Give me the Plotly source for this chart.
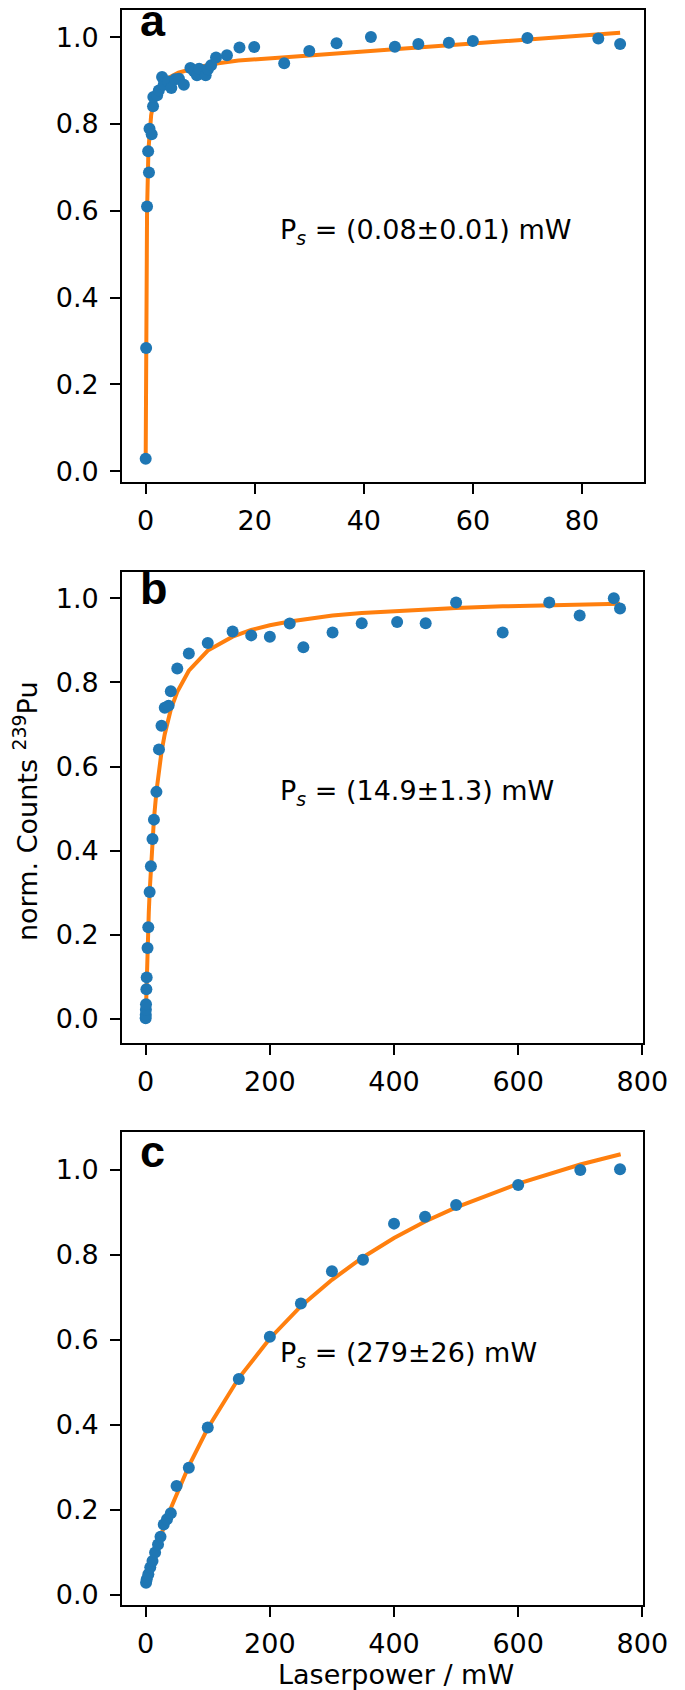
import plotly.graph_objects as go

# ---------------- data ----------------
# Panel a (x in mW)
a_x = [0.0, 0.08, 0.25, 0.6, 0.45, 0.7, 1.1, 1.35, 1.4, 2.1, 2.4, 3.0, 3.3, 4.1, 4.7,
       5.4, 6.1, 7.0, 8.2, 8.9, 9.4, 9.8, 11.0, 11.4, 12.0, 12.9, 14.9, 17.2, 19.9,
       25.4, 30.0, 35.0, 41.3, 45.7, 50.0, 55.6, 60.0, 70.0, 83.0, 87.0]
a_y = [0.029, 0.284, 0.610, 0.688, 0.737, 0.789, 0.776, 0.841, 0.862, 0.866, 0.877,
       0.908, 0.890, 0.898, 0.883, 0.903, 0.904, 0.890, 0.929, 0.921, 0.912, 0.927,
       0.912, 0.926, 0.935, 0.953, 0.958, 0.976, 0.977, 0.940, 0.968, 0.986, 1.000,
       0.978, 0.984, 0.987, 0.991, 0.998, 0.997, 0.984]
a_fit_x = [0.0, 0.08, 0.25, 0.5, 1.0, 1.5, 2.0, 3.0, 4.0, 6.0, 8.0, 10.0, 13.0, 17.0,
           25.0, 35.0, 45.0, 55.0, 65.0, 75.0, 87.0]
a_fit_y = [0.030, 0.290, 0.600, 0.740, 0.820, 0.855, 0.873, 0.893, 0.905, 0.918, 0.926,
           0.932, 0.939, 0.946, 0.953, 0.962, 0.971, 0.980, 0.990, 0.999, 1.010]

# Panel b
b_x = [0.0, 0.15, 0.33, 0.54, 1.13, 1.63, 3.0, 4.2, 6.4, 8.4, 11.0, 13.3, 17.3, 21.4,
       25.5, 30.7, 36.9, 40.5, 50.9, 69.5, 100, 140, 170, 200, 232, 254, 301, 348,
       405, 451, 500, 575, 650, 699, 754, 764]
b_y = [0.002, 0.010, 0.022, 0.035, 0.071, 0.099, 0.169, 0.218, 0.302, 0.363, 0.428,
       0.474, 0.540, 0.641, 0.697, 0.740, 0.745, 0.779, 0.833, 0.869, 0.894, 0.921,
       0.912, 0.909, 0.940, 0.884, 0.919, 0.941, 0.944, 0.941, 0.990, 0.919, 0.990,
       0.959, 1.000, 0.976]
b_fit_x = [0, 1, 2, 3, 4, 5, 6.4, 8.4, 11, 13.3, 17.3, 21.4, 25.5, 30.7, 36.9, 40.5,
           50.9, 69.5, 100, 140, 170, 200, 232, 254, 301, 348, 405, 451, 500, 575,
           650, 699, 754, 764]
b_fit_y = [0.0, 0.063, 0.119, 0.169, 0.213, 0.253, 0.302, 0.363, 0.427, 0.475, 0.541,
           0.593, 0.635, 0.677, 0.717, 0.736, 0.778, 0.828, 0.876, 0.909, 0.925, 0.936,
           0.945, 0.950, 0.959, 0.965, 0.970, 0.973, 0.977, 0.981, 0.984, 0.985,
           0.986, 0.987]

# Panel c
c_x = [0.6, 1.7, 4.3, 7.4, 11.0, 15.2, 19.9, 23.9, 29.1, 34.3, 40.5, 49.8, 69.5, 100,
       150, 200, 250, 300, 350, 400, 450, 500, 600, 700, 764]
c_y = [0.029, 0.037, 0.049, 0.065, 0.080, 0.100, 0.119, 0.137, 0.166, 0.178, 0.192,
       0.256, 0.299, 0.394, 0.508, 0.607, 0.685, 0.761, 0.788, 0.873, 0.889, 0.917,
       0.964, 0.999, 1.001]
c_fit_x = [0, 10, 20, 40, 70, 100, 150, 200, 250, 300, 350, 400, 450, 500, 600, 700, 765]
c_fit_y = [0.030, 0.078, 0.122, 0.202, 0.305, 0.392, 0.510, 0.603, 0.679, 0.741, 0.794,
           0.839, 0.878, 0.911, 0.967, 1.012, 1.036]

panel_letters = ["a", "b", "c"]
ps_texts = ["P<sub><i>s</i></sub> = (0.08±0.01) mW",
            "P<sub><i>s</i></sub> = (14.9±1.3) mW",
            "P<sub><i>s</i></sub> = (279±26) mW"]
y_ticks = [0.0, 0.2, 0.4, 0.6, 0.8, 1.0]
a_xticks = [0, 20, 40, 60, 80]
bc_xticks = [0, 200, 400, 600, 800]

# ---------------- figure ----------------
W, H = 685, 1690
BLUE = "#1f77b4"
ORANGE = "#ff7f0e"
FONT = "DejaVu Sans"

fig = go.Figure()
series = [(a_x, a_y, a_fit_x, a_fit_y), (b_x, b_y, b_fit_x, b_fit_y), (c_x, c_y, c_fit_x, c_fit_y)]
for i, (px_, py_, fx, fy) in enumerate(series):
    sfx = "" if i == 0 else str(i + 1)
    fig.add_trace(go.Scatter(x=fx, y=fy, mode="lines", line=dict(color=ORANGE, width=4),
                             xaxis="x" + sfx, yaxis="y" + sfx, showlegend=False, hoverinfo="skip"))
    fig.add_trace(go.Scatter(x=px_, y=py_, mode="markers", marker=dict(color=BLUE, size=12),
                             xaxis="x" + sfx, yaxis="y" + sfx, showlegend=False))

def px2py(top, bottom):
    return [1 - bottom / H, 1 - top / H]

x_doms = [[118.4 / W, 659.7 / W], [118.4 / W, 658.8 / W], [118.4 / W, 658.8 / W]]
y_doms = [px2py(1.1, 474.9), px2py(565.2, 1038.3), px2py(1128, 1602.4)]
x_ranges = [[-4.33, 91.31], [-38.0, 800.6], [-38.0, 800.6]]
y_ranges = [[-0.0245, 1.0622], [-0.057, 1.063], [-0.0229, 1.0876]]
x_tickvals = [a_xticks, bc_xticks, bc_xticks]

common = dict(showline=True, linecolor="black", linewidth=2, mirror=True,
              ticks="outside", ticklen=10, tickwidth=2, tickcolor="black",
              showgrid=False, zeroline=False,
              tickfont=dict(family=FONT, size=27, color="black"))
layout = {}
for i in range(3):
    sfx = "" if i == 0 else str(i + 1)
    layout["xaxis" + sfx] = dict(domain=x_doms[i], range=x_ranges[i], anchor="y" + sfx,
                                 tickvals=x_tickvals[i], ticklabelstandoff=4, **common)
    layout["yaxis" + sfx] = dict(domain=y_doms[i], range=y_ranges[i], anchor="x" + sfx,
                                 tickvals=y_ticks, tickformat=".1f", ticklabelstandoff=6, **common)

fig.update_layout(width=W, height=H, margin=dict(l=0, r=0, t=0, b=0),
                  paper_bgcolor="white", plot_bgcolor="white", **layout)

annotations = []
letter_mid = [12.0, 582.0, 1147.0]
for i in range(3):
    annotations.append(dict(text="<b>%s</b>" % panel_letters[i], x=135 / W,
                            y=1 - letter_mid[i] / H, xref="paper", yref="paper",
                            xanchor="left", yanchor="middle", showarrow=False,
                            font=dict(family="Liberation Sans", size=45, color="black")))
ps_mid = [223.4, 786.8, 1351]
for i in range(3):
    annotations.append(dict(text=ps_texts[i], x=280 / W, y=1 - ps_mid[i] / H,
                            xref="paper", yref="paper", xanchor="left", yanchor="middle",
                            showarrow=False, font=dict(family=FONT, size=27, color="black")))
annotations.append(dict(text="norm. Counts <sup>239</sup>Pu", x=18 / W, y=1 - 805 / H,
                        xref="paper", yref="paper", xanchor="center", yanchor="middle",
                        textangle=-90, showarrow=False,
                        font=dict(family=FONT, size=27, color="black")))
annotations.append(dict(text="Laserpower / mW", x=403 / W, y=1 - 1672 / H,
                        xref="paper", yref="paper", xanchor="center", yanchor="middle",
                        showarrow=False, font=dict(family=FONT, size=27, color="black")))
fig.update_layout(annotations=annotations)

fig.write_html("out.html")
